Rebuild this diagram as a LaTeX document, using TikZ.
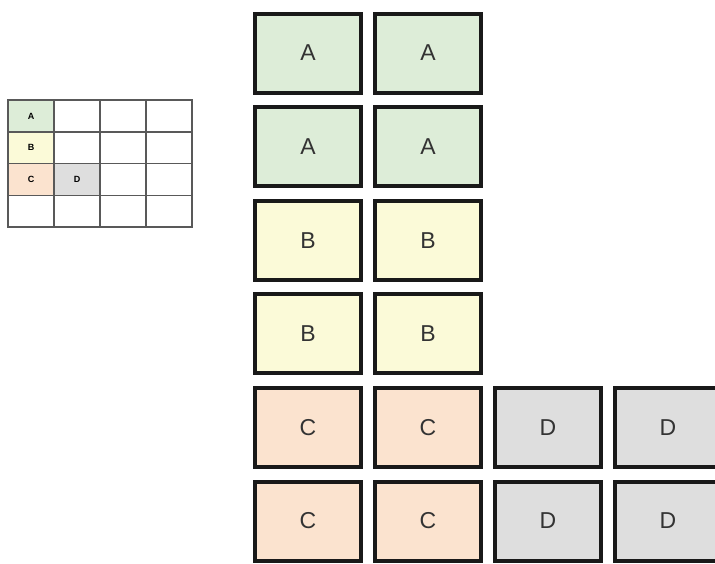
\documentclass[tikz,border=0pt]{standalone}
\usepackage{fontspec}
\setmainfont{Liberation Sans}
\usetikzlibrary{positioning}
\definecolor{greenA}{HTML}{DDEDD8}
\definecolor{yellowB}{HTML}{FBFAD8}
\definecolor{orangeC}{HTML}{FBE3CF}
\definecolor{grayD}{HTML}{DEDEDE}

\begin{document}
\begin{tikzpicture}[x=1pt, y=-1pt, node distance={10.6pt and 10pt},
    big/.style = {draw=black!90, line width=4pt, minimum width=106pt, minimum height=79pt, inner sep=0pt, text=black!80, font=\fontsize{23}{23}\selectfont},
    mini/.style = {draw=black!65, line width=1.5pt, outer sep=0pt, minimum width=46pt, minimum height=31.75pt, inner sep=0pt, font=\bfseries\fontsize{9}{9}\selectfont}]
  \useasboundingbox (0,0) rectangle (715,563);
  % small overview grid
  \node[mini, fill=greenA] (mA) at (31,115.9) {A};
  \node[mini] (m12) [right=0pt of mA] {};
  \node[mini] (m13) [right=0pt of m12] {};
  \node[mini] (m14) [right=0pt of m13] {};
  \node[mini, fill=yellowB] (mB) [below=0pt of mA] {B};
  \node[mini] (m22) [right=0pt of mB] {};
  \node[mini] (m23) [right=0pt of m22] {};
  \node[mini] (m24) [right=0pt of m23] {};
  \node[mini, fill=orangeC] (mC) [below=0pt of mB] {C};
  \node[mini, fill=grayD] (mD) [right=0pt of mC] {D};
  \node[mini] (m33) [right=0pt of mD] {};
  \node[mini] (m34) [right=0pt of m33] {};
  \node[mini] (m41) [below=0pt of mC] {};
  \node[mini] (m42) [right=0pt of m41] {};
  \node[mini] (m43) [right=0pt of m42] {};
  \node[mini] (m44) [right=0pt of m43] {};
  % expanded blocks
  \node[big, fill=greenA] (a1) at (308,53) {A};
  \node[big, fill=greenA] (a2) [right=of a1] {A};
  \node[big, fill=greenA] (a3) [below=of a1] {A};
  \node[big, fill=greenA] (a4) [right=of a3] {A};
  \node[big, fill=yellowB] (b1) [below=of a3] {B};
  \node[big, fill=yellowB] (b2) [right=of b1] {B};
  \node[big, fill=yellowB] (b3) [below=of b1] {B};
  \node[big, fill=yellowB] (b4) [right=of b3] {B};
  \node[big, fill=orangeC] (c1) [below=of b3] {C};
  \node[big, fill=orangeC] (c2) [right=of c1] {C};
  \node[big, fill=grayD] (d1) [right=of c2] {D};
  \node[big, fill=grayD] (d2) [right=of d1] {D};
  \node[big, fill=orangeC] (c3) [below=of c1] {C};
  \node[big, fill=orangeC] (c4) [right=of c3] {C};
  \node[big, fill=grayD] (d3) [right=of c4] {D};
  \node[big, fill=grayD] (d4) [right=of d3] {D};
\end{tikzpicture}
\end{document}
